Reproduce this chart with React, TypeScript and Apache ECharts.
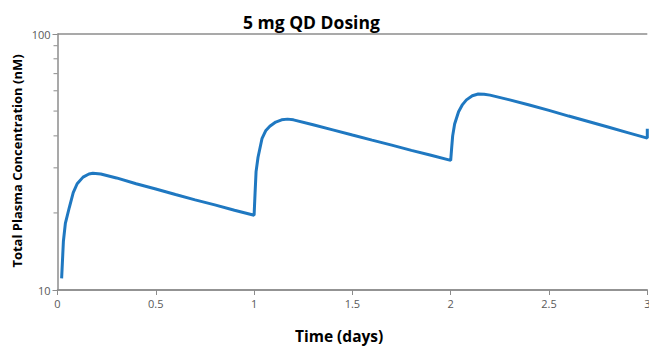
import React, { useEffect, useRef } from "react";
import * as echarts from "echarts";

const titleText = "5 mg QD Dosing";
const xAxisName = "Time (days)";
const yAxisName = "Total Plasma Concentration (nM)";

const timeDays = [
  0.021, 0.03, 0.04, 0.06, 0.08, 0.1, 0.13, 0.16, 0.18, 0.22, 0.3, 0.4, 0.5, 0.6, 0.7, 0.8, 0.9, 1.0,
  1.005, 1.01, 1.02, 1.04, 1.06, 1.08, 1.11, 1.14, 1.17, 1.2, 1.3, 1.4, 1.5, 1.6, 1.7, 1.8, 1.9, 2.0,
  2.005, 2.01, 2.02, 2.04, 2.06, 2.08, 2.11, 2.14, 2.17, 2.2, 2.3, 2.4, 2.5, 2.6, 2.7, 2.8, 2.9, 3.0, 3.0,
];
const concentration = [
  11.1, 15.5, 18.2, 21.0, 24.0, 26.0, 27.6, 28.4, 28.6, 28.4, 27.4, 26.0, 24.8, 23.6, 22.5, 21.5, 20.5, 19.6,
  24.0, 29.0, 33.0, 39.0, 42.0, 43.6, 45.3, 46.2, 46.5, 46.2, 44.2, 42.2, 40.3, 38.5, 36.8, 35.1, 33.6, 32.1,
  36.0, 40.0, 44.5, 49.7, 53.0, 55.3, 57.4, 58.3, 58.2, 57.7, 55.3, 52.8, 50.3, 47.8, 45.5, 43.3, 41.2, 39.2, 42.6,
];
const xTicks = [0, 0.5, 1, 1.5, 2, 2.5, 3];
const yMinorTicks = [20, 30, 40, 50, 60, 70, 80, 90];

export default function App() {
  const ref = useRef<HTMLDivElement>(null);
  useEffect(() => {
    if (!ref.current) return;
    const chart = echarts.init(ref.current, null, { renderer: "svg" });
    const axisColor = "#8c8c8c";
    const labelColor = "#595959";
    const font = "'Open Sans', 'Noto Sans', sans-serif";
    chart.setOption({
      animation: false,
      backgroundColor: "#ffffff",
      grid: {
        left: 57.5,
        right: 1.7,
        top: 34,
        bottom: 58,
        containLabel: false,
        outerBoundsMode: "none",
      },
      title: {
        text: titleText,
        left: 238,
        top: 8,
        textStyle: { fontFamily: font, fontSize: 17.5, fontWeight: 700, color: "#000" },
      },
      graphic: [
        {
          type: "text",
          left: 295,
          top: 328,
          style: { text: xAxisName, fontFamily: font, fontSize: 15.5, fontWeight: 700, fill: "#000" },
        },
        {
          type: "text",
          x: 10,
          y: 161,
          rotation: Math.PI / 2,
          style: {
            text: yAxisName,
            fontFamily: font,
            fontSize: 13,
            fontWeight: 700,
            fill: "#000",
            align: "center",
            verticalAlign: "top",
          },
        },
      ],
      xAxis: {
        type: "value",
        min: 0,
        max: 3,
        interval: 0.5,
        axisLine: { show: true, lineStyle: { color: axisColor, width: 1.5 } },
        axisTick: { show: true, length: 5, lineStyle: { color: axisColor } },
        axisLabel: {
          color: labelColor,
          fontFamily: font,
          fontSize: 11,
          margin: 8,
          customValues: xTicks,
        },
        splitLine: { show: false },
      },
      yAxis: {
        type: "log",
        logBase: 10,
        min: 10,
        max: 100,
        axisLine: { show: true, lineStyle: { color: axisColor, width: 1.5 } },
        axisTick: { show: true, length: 5, lineStyle: { color: axisColor } },
        axisLabel: { color: labelColor, fontFamily: font, fontSize: 11, margin: 7 },
        splitLine: { show: true, lineStyle: { color: axisColor, width: 1.5 } },
      },
      series: [
        {
          type: "custom",
          silent: true,
          clip: false,
          data: yMinorTicks.map((v) => [0, v]),
          renderItem: (params: any, api: any) => {
            const p = api.coord([0, api.value(1)]);
            return {
              type: "line",
              shape: { x1: p[0] - 4, y1: p[1], x2: p[0], y2: p[1] },
              style: { stroke: axisColor, lineWidth: 1 },
            };
          },
        },
        {
          type: "line",
          data: timeDays.map((t, i) => [t, concentration[i]]),
          showSymbol: false,
          symbol: "none",
          smooth: false,
          clip: false,
          lineStyle: { color: "#1f78c1", width: 3 },
          itemStyle: { color: "#1f78c1" },
        },
      ],
    });
    return () => chart.dispose();
  }, []);
  return (
    <div
      ref={ref}
      style={{ position: "fixed", left: 0, top: 0, width: 649, height: 348 }}
    />
  );
}
